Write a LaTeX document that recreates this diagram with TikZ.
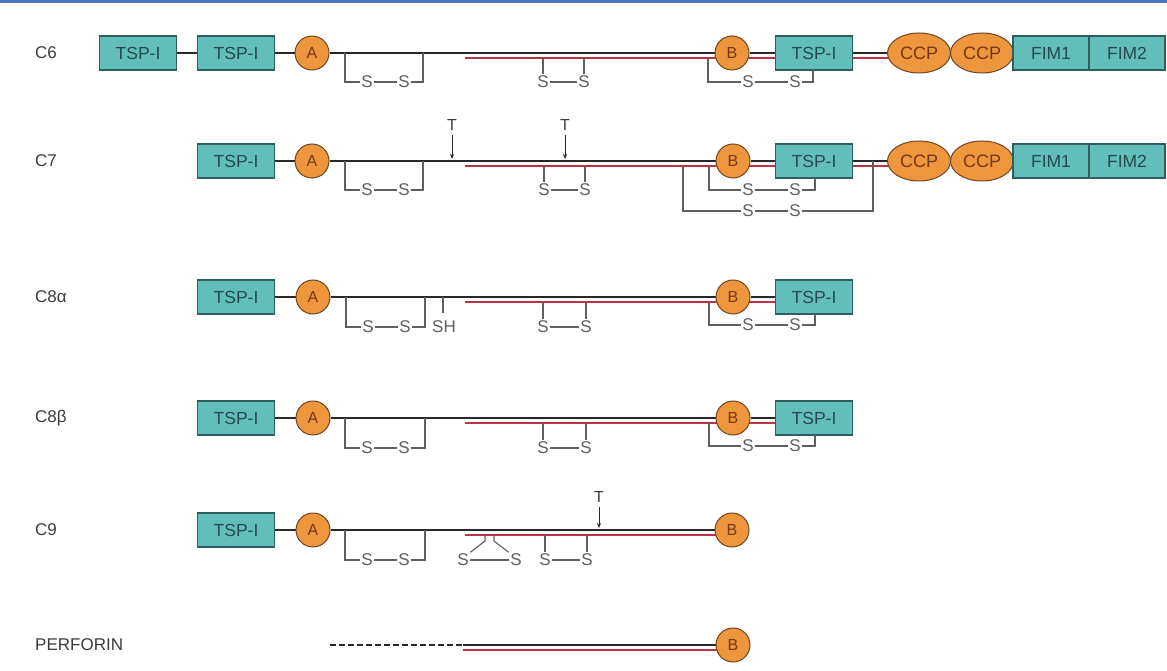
\documentclass[tikz,border=0pt]{standalone}
\usepackage{fontspec}
\setmainfont{Liberation Sans}
\usetikzlibrary{shapes.geometric,arrows.meta}
\pgfdeclarelayer{bg}
\pgfsetlayers{bg,main}
\definecolor{tealfill}{RGB}{98,190,186}
\definecolor{tealdraw}{RGB}{45,95,95}
\definecolor{tealtext}{RGB}{35,75,78}
\definecolor{orfill}{RGB}{238,150,60}
\definecolor{ordraw}{RGB}{110,70,35}
\definecolor{ortext}{RGB}{120,55,20}
\definecolor{redl}{RGB}{190,50,70}
\definecolor{chainc}{RGB}{40,40,40}
\definecolor{ssc}{RGB}{95,95,95}
\definecolor{topblue}{RGB}{70,115,190}
\definecolor{labc}{RGB}{60,60,60}
\newcommand\myfs[1]{\fontsize{#1}{#1}\selectfont}
\tikzset{
 tsp/.style={draw=tealdraw, fill=tealfill, line width=1.2, minimum width=77, minimum height=34, inner sep=0, font=\myfs{17.5}, text=tealtext},
 fim/.style={tsp, minimum width=76},
 dom/.style={circle, draw=ordraw, fill=orfill, line width=1, minimum size=34, inner sep=0, font=\myfs{16}, text=ortext},
 ccp/.style={ellipse, draw=ordraw, fill=orfill, line width=1, minimum width=63, minimum height=40, inner sep=0, font=\myfs{18}, text=ortext},
 chain/.style={line width=2.2, draw=chainc},
 redline/.style={line width=2, draw=redl},
 ssl/.style={line width=1.1, draw=ssc},
 stxt/.style={text=ssc, font=\myfs{17}, inner sep=1.5},
 lab/.style={anchor=west, text=labc, font=\myfs{17}, inner sep=0},
 tlab/.style={text=labc, font=\myfs{16}, inner sep=1},
 tarrow/.style={line width=0.9, draw=chainc, shorten <=3, -{Stealth[length=5,width=4]}},
}
% bracket: name, xl, xr, yl, yr, ys, sxA, sxB
\newcommand\sbr[8]{%
 \node[stxt] (#1a) at (#7,#6) {S};
 \node[stxt] (#1b) at (#8,#6) {S};
 \draw[ssl] (#2,#4) |- (#1a.west);
 \draw[ssl] (#1a.east) -- (#1b.west);
 \draw[ssl] (#1b.east) -| (#3,#5);
}
% middle pair: name, x1, x2, ytop, ys
\newcommand\smid[5]{%
 \node[stxt] (#1a) at (#2,#5) {S};
 \node[stxt] (#1b) at (#3,#5) {S};
 \draw[ssl] (#2,#4) -- (#1a.north);
 \draw[ssl] (#3,#4) -- (#1b.north);
 \draw[ssl] (#1a.east) -- (#1b.west);
}
\begin{document}
\begin{tikzpicture}[x=1pt,y=-1pt]
\begin{pgfonlayer}{bg}
\fill[white] (0,0) rectangle (1167,671);
\end{pgfonlayer}
\useasboundingbox (0,0) rectangle (1167,671);
\draw[topblue, line width=3] (0,1.5) -- (1167,1.5);

% ---------------- C6
\node[lab] (l6) at (35,53) {C6};
\node[tsp] (t61) at (138,53) {TSP-I};
\node[tsp] (t62) at (236,53) {TSP-I};
\node[dom] (a6) at (312,53) {A};
\node[dom] (b6) at (732,53) {B};
\node[tsp] (t63) at (814,53) {TSP-I};
\node[ccp] (c61) at (919,53) {CCP};
\node[ccp] (c62) at (982,53) {CCP};
\node[fim] (f61) at (1051,53) {FIM1};
\node[fim] (f62) at (1127,53) {FIM2};
\coordinate (r6) at (465,58);
\begin{pgfonlayer}{bg}
\draw[chain] (t61) -- (t62);
\draw[chain] (t62) -- (a6) -- (b6) -- (t63) -- (c61);
\draw[redline] (r6) -- (c61.center |- r6);
\end{pgfonlayer}
\sbr{p6}{345}{423}{53}{53}{82}{367}{404}
\smid{m6}{543}{584}{58}{82}
\sbr{q6}{708}{813}{58}{70}{82}{748}{795}

% ---------------- C7
\node[lab] (l7) at (35,161) {C7};
\node[tsp] (t71) at (236,161) {TSP-I};
\node[dom] (a7) at (312,161) {A};
\node[dom] (b7) at (733,161) {B};
\node[tsp] (t72) at (814,161) {TSP-I};
\node[ccp] (c71) at (919,161) {CCP};
\node[ccp] (c72) at (982,161) {CCP};
\node[fim] (f71) at (1051,161) {FIM1};
\node[fim] (f72) at (1127,161) {FIM2};
\coordinate (r7) at (465,166);
\begin{pgfonlayer}{bg}
\draw[chain] (t71) -- (a7) -- (b7) -- (t72) -- (c71);
\draw[redline] (r7) -- (c71.center |- r7);
\end{pgfonlayer}
\node[tlab] (tt71) at (452,125) {T};
\coordinate (tp71) at (452,159);
\draw[tarrow] (tt71.south) -- (tp71);
\node[tlab] (tt72) at (565,125) {T};
\coordinate (tp72) at (565,159);
\draw[tarrow] (tt72.south) -- (tp72);
\sbr{p7}{345}{423}{161}{161}{190}{367}{404}
\smid{m7}{544}{585}{166}{190}
\sbr{q7}{709}{815}{166}{178}{190}{748}{795}
\sbr{o7}{683}{873}{166}{161}{211}{748}{795}

% ---------------- C8 alpha
\node[lab] (l8a) at (35,297) {C8α};
\node[tsp] (t81) at (236,297) {TSP-I};
\node[dom] (a8) at (313,297) {A};
\node[dom] (b8) at (733,297) {B};
\node[tsp] (t82) at (814,297) {TSP-I};
\coordinate (r8) at (465,302);
\begin{pgfonlayer}{bg}
\draw[chain] (t81) -- (a8) -- (b8) -- (t82);
\draw[redline] (r8) -- (t82.center |- r8);
\end{pgfonlayer}
\sbr{p8}{346}{425}{297}{297}{327}{368}{405}
\node[stxt] (sh8) at (444,327) {SH};
\draw[ssl] (443,297) -- (443,313);
\smid{m8}{543}{586}{302}{327}
\sbr{q8}{709}{815}{302}{314}{325}{748}{795}

% ---------------- C8 beta
\node[lab] (l8b) at (35,418) {C8β};
\node[tsp] (t91) at (236,418) {TSP-I};
\node[dom] (a9b) at (313,418) {A};
\node[dom] (b9b) at (733,418) {B};
\node[tsp] (t92) at (814,418) {TSP-I};
\coordinate (r8b) at (465,423);
\begin{pgfonlayer}{bg}
\draw[chain] (t91) -- (a9b) -- (b9b) -- (t92);
\draw[redline] (r8b) -- (t92.center |- r8b);
\end{pgfonlayer}
\sbr{pb}{345}{425}{418}{418}{448}{367}{404}
\smid{mb}{543}{586}{423}{448}
\sbr{qb}{709}{815}{423}{435}{446}{748}{795}

% ---------------- C9
\node[lab] (l9) at (35,530) {C9};
\node[tsp] (t9) at (236,530) {TSP-I};
\node[dom] (a9) at (313,530) {A};
\node[dom] (b9) at (732,530) {B};
\coordinate (r9) at (465,535);
\begin{pgfonlayer}{bg}
\draw[chain] (t9) -- (a9) -- (b9);
\draw[redline] (r9) -- (b9.center |- r9);
\end{pgfonlayer}
\node[tlab] (tt9) at (599,497) {T};
\coordinate (tp9) at (599,528);
\draw[tarrow] (tt9.south) -- (tp9);
\sbr{p9}{345}{425}{530}{530}{560}{367}{404}
\node[stxt] (k9a) at (463,560) {S};
\node[stxt] (k9b) at (516,560) {S};
\draw[ssl] (485,535) -- (485,541) -- (k9a.north east);
\draw[ssl] (494,535) -- (494,541) -- (k9b.north west);
\draw[ssl] (k9a.east) -- (k9b.west);
\smid{m9}{545}{587}{535}{560}

% ---------------- PERFORIN
\node[lab] (lp) at (35,645) {PERFORIN};
\node[dom] (bp) at (733,645) {B};
\coordinate (pd) at (330,645);
\coordinate (pr) at (463,645);
\coordinate (pr2) at (463,650);
\begin{pgfonlayer}{bg}
\draw[chain, line width=2.6, dash pattern=on 6 off 3] (pd) -- (pr);
\draw[chain] (pr) -- (bp);
\draw[redline] (pr2) -- (bp.center |- pr2);
\end{pgfonlayer}
\end{tikzpicture}
\end{document}
